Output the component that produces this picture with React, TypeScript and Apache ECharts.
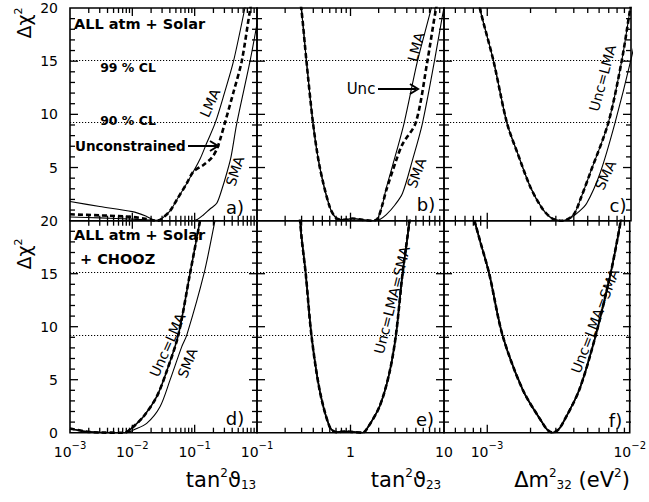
import React, { useEffect, useRef } from 'react';
import * as echarts from 'echarts';

type Pt = [number, number];

// ---------- data (x, Δχ²) ----------
// a) tan²θ13 — ALL atm + Solar
const aLMA: Pt[] = [[0.001, 1.8], [0.003, 1.33], [0.01, 0.85], [0.017, 0.4], [0.024, 0.0], [0.028, 0.08], [0.04, 0.9], [0.0515, 1.95], [0.0745, 3.5], [0.095, 4.6], [0.122, 5.8], [0.156, 7.3], [0.215, 9.24], [0.3, 12.0], [0.42, 15.0], [0.64, 20.0], [0.75, 22.0]];
const aSMA: Pt[] = [[0.001, 0.35], [0.003, 0.27], [0.01, 0.15], [0.02, 0.05], [0.04, 0.0], [0.09, 0.0], [0.11, 0.12], [0.138, 0.54], [0.176, 1.1], [0.226, 1.64], [0.275, 3.0], [0.327, 4.46], [0.383, 6.0], [0.477, 9.24], [0.773, 15.0], [1.0, 18.5]];
const aUnc: Pt[] = [[0.001, 0.6], [0.003, 0.5], [0.01, 0.35], [0.017, 0.15], [0.024, 0.0], [0.028, 0.08], [0.04, 0.9], [0.0515, 1.95], [0.0745, 3.5], [0.095, 4.6], [0.138, 5.24], [0.187, 5.9], [0.226, 6.7], [0.255, 7.6], [0.307, 9.24], [0.42, 12.1], [0.569, 15.0], [0.773, 19.8], [0.85, 21.0]];

// b) tan²θ23 — ALL atm + Solar
const bLeft: Pt[] = [[0.27, 22.5], [0.299, 19.8], [0.338, 15.0], [0.397, 9.2], [0.468, 5.08], [0.598, 1.32], [0.705, 0.23], [0.85, 0.08], [1.05, 0.2], [1.35, 0.08], [1.73, 0.0]];
const bLMA: Pt[] = [[1.95, 0.2], [2.21, 1.6], [2.4, 3.0], [3.06, 6.3], [3.75, 9.2], [5.2, 15.0], [7.22, 19.8], [8.0, 21.5]];
const bSMA: Pt[] = [[2.04, 0.1], [2.4, 0.54], [3.0, 1.5], [3.6, 2.58], [4.6, 5.7], [5.88, 9.16], [7.9, 15.0], [9.5, 19.0], [10.5, 21.0]];
const bUnc: Pt[] = [[1.95, 0.2], [2.21, 1.6], [2.4, 2.8], [3.06, 5.6], [3.6, 7.2], [5.0, 9.24], [6.64, 15.0], [8.16, 19.8], [9.0, 21.5]];

// c) Δm²32 — ALL atm + Solar
const cLeft: Pt[] = [[8.5e-4, 21.5], [8.94e-4, 19.8], [1.106e-3, 15.0], [1.37e-3, 9.2], [1.65e-3, 6.1], [1.99e-3, 3.2], [2.4e-3, 1.2], [2.81e-3, 0.23], [3.3e-3, 0.0]];
const cLMA: Pt[] = [[3.97e-3, 0.54], [4.5e-3, 2.2], [5.19e-3, 4.46], [6.95e-3, 9.2], [8.61e-3, 15.0], [9.84e-3, 19.8], [1.05e-2, 22.0]];
const cSMA: Pt[] = [[3.7e-3, 0.15], [4.3e-3, 0.8], [4.92e-3, 1.64], [6.09e-3, 4.46], [7.74e-3, 9.2], [1.01e-2, 15.4], [1.1e-2, 18.0]];

// d) tan²θ13 — ALL atm + Solar + CHOOZ
const dLeft: Pt[] = [[0.001, 0.4], [0.00185, 0.1], [0.003, 0.02], [0.0075, 0.0]];
const dLMA: Pt[] = [[0.0092, 0.3], [0.015, 1.5], [0.0246, 3.4], [0.0356, 5.8], [0.0546, 9.2], [0.0841, 15.0], [0.122, 20.0], [0.14, 22.0]];
const dSMA: Pt[] = [[0.0085, 0.02], [0.0104, 0.25], [0.017, 0.88], [0.0278, 2.45], [0.0402, 4.96], [0.0619, 8.1], [0.0747, 9.2], [0.141, 15.0], [0.212, 20.0], [0.24, 21.5]];

// e) tan²θ23 — Unc = LMA = SMA
const eAll: Pt[] = [[0.27, 22.5], [0.283, 21.0], [0.299, 18.5], [0.332, 15.0], [0.382, 9.2], [0.468, 4.0], [0.598, 0.56], [0.705, 0.05], [0.9, 0.12], [1.1, 0.05], [1.35, 0.0], [1.47, 0.25], [2.04, 2.45], [2.6, 5.6], [3.06, 9.2], [3.6, 15.0], [4.07, 18.5], [4.5, 21.5]];

// f) Δm²32 — Unc = LMA = SMA
const fAll: Pt[] = [[7.62e-4, 21.5], [8.94e-4, 18.1], [1.037e-3, 15.0], [1.285e-3, 9.2], [1.787e-3, 4.0], [2.46e-3, 0.88], [2.66e-3, 0.25], [2.885e-3, 0.0], [3.14e-3, 0.25], [3.39e-3, 0.88], [4.42e-3, 4.0], [5.78e-3, 9.2], [7.34e-3, 15.0], [8.16e-3, 18.1], [8.66e-3, 20.0], [9.2e-3, 22.0]];

// confidence levels (Δχ², 5 d.o.f.)
const CL_90 = 9.24;
const CL_99 = 15.09;

// axis ranges and ticks
const X_T13: [number, number] = [1e-3, 1];
const X_T23: [number, number] = [0.1, 10];
const X_DM: [number, number] = [5e-4, 1e-2];
const Y_RANGE: [number, number] = [0, 20];
const Y_MINOR_STEP = 1;
const Y_MAJOR_STEP = 5;
const MANTISSAS = [2, 3, 4, 5, 6, 7, 8, 9];

// ---------- layout / style ----------
const FONT = '"DejaVu Sans", "Liberation Sans", Arial, sans-serif';
const ROW_TOP = [8, 220.7];
const ROW_H = [212.7, 212];
const COL_LEFT = [70, 257, 444];
const COL_W = 187;
const TICK_MAJOR = 8; // px
const TICK_MINOR = 5; // px

const PANELS = [
  { range: X_T13, lma: aLMA, sma: aSMA, unc: aUnc, thick: false, label: 'none' },
  { range: X_T23, lma: [...bLeft, ...bLMA], sma: [...bLeft, ...bSMA], unc: [...bLeft, ...bUnc], thick: false, label: 'none' },
  { range: X_DM, lma: [...cLeft, ...cLMA], sma: [...cLeft, ...cSMA], unc: [...cLeft, ...cLMA], thick: false, label: 'none' },
  { range: X_T13, lma: [...dLeft, ...dLMA], sma: [...dLeft, ...dSMA], unc: [...dLeft, ...dLMA], thick: true, label: 'd' },
  { range: X_T23, lma: eAll, sma: eAll, unc: eAll, thick: true, label: 'e' },
  { range: X_DM, lma: fAll, sma: fAll, unc: fAll, thick: true, label: 'f' },
];

const RICH_TICK = {
  b: { fontFamily: FONT, fontSize: 14, color: '#000', lineHeight: 24 },
  s: { fontFamily: FONT, fontSize: 10, color: '#000', padding: [0, 0, 12, 0] },
};

const pow10Label = (e: number) => `{b|10}{s|${e < 0 ? '\u2212' + -e : e}}`;

function xFormatter(kind: string) {
  return (v: number) => {
    const l = Math.log10(v);
    const e = Math.round(l);
    if (Math.abs(l - e) > 1e-6) return '';
    if (kind === 'd') return e >= 0 ? '' : pow10Label(e);
    if (kind === 'e') return e === 0 ? '{b|1}' : e === 1 ? '{b|10}' : pow10Label(e);
    if (kind === 'f') return pow10Label(e);
    return '';
  };
}

function xTickValues(range: [number, number]): number[][] {
  const out: number[][] = [];
  const lo = Math.floor(Math.log10(range[0]) + 1e-9);
  const hi = Math.ceil(Math.log10(range[1]) - 1e-9);
  for (let e = lo; e <= hi; e++) {
    const dec = Math.pow(10, e);
    if (dec > range[0] * 1.0001 && dec < range[1] * 0.9999) out.push([dec, 1]);
    for (let k = 0; k < MANTISSAS.length; k++) {
      const v = MANTISSAS[k] * dec;
      if (v > range[0] * 1.0001 && v < range[1] * 0.9999) out.push([v, 0]);
    }
  }
  return out;
}

function yTickValues(): number[][] {
  const out: number[][] = [];
  for (let v = Y_RANGE[0] + Y_MINOR_STEP; v < Y_RANGE[1]; v += Y_MINOR_STEP) {
    out.push([v, v % Y_MAJOR_STEP === 0 ? 1 : 0]);
  }
  return out;
}

// tick marks on all four sides, as one polyline path per tick (graphic 'polyline')
function tickMarks(): any[] {
  const out: any[] = [];
  PANELS.forEach((p, i) => {
    const row = Math.floor(i / 3);
    const col = i % 3;
    const left = COL_LEFT[col];
    const top = ROW_TOP[row];
    const h = ROW_H[row];
    const l0 = Math.log10(p.range[0]);
    const l1 = Math.log10(p.range[1]);
    const xs = xTickValues(p.range);
    for (let k = 0; k < xs.length; k++) {
      const L = xs[k][1] ? TICK_MAJOR : TICK_MINOR;
      const px = left + ((Math.log10(xs[k][0]) - l0) / (l1 - l0)) * COL_W;
      out.push({ type: 'polyline', z: 60, shape: { points: [[px, top + h], [px, top + h - L]] }, style: { stroke: '#000', lineWidth: 1.3, fill: null } });
      out.push({ type: 'polyline', z: 60, shape: { points: [[px, top], [px, top + L]] }, style: { stroke: '#000', lineWidth: 1.3, fill: null } });
    }
    const ys = yTickValues();
    for (let k = 0; k < ys.length; k++) {
      const L = ys[k][1] ? TICK_MAJOR : TICK_MINOR;
      const py = top + h - ((ys[k][0] - Y_RANGE[0]) / (Y_RANGE[1] - Y_RANGE[0])) * h;
      out.push({ type: 'polyline', z: 60, shape: { points: [[left, py], [left + L, py]] }, style: { stroke: '#000', lineWidth: 1.3, fill: null } });
      out.push({ type: 'polyline', z: 60, shape: { points: [[left + COL_W, py], [left + COL_W - L, py]] }, style: { stroke: '#000', lineWidth: 1.3, fill: null } });
    }
  });
  return out;
}

const txt = (x: number, y: number, text: string, fontSize: number, rotDeg = 0, align = 'center', rich?: any, weight = 'normal') => ({
  type: 'text',
  x,
  y,
  rotation: (rotDeg * Math.PI) / 180,
  z: 100,
  silent: true,
  style: { text, fontSize, fontFamily: FONT, fontWeight: weight, fill: '#000', align, verticalAlign: 'middle', rich },
});

const RICH_TITLE = {
  m: { fontFamily: FONT, fontSize: 21, color: '#000' },
  s: { fontFamily: FONT, fontSize: 12, color: '#000', padding: [0, 0, 14, 0] },
  u: { fontFamily: FONT, fontSize: 12, color: '#000', padding: [10, 0, 0, 0] },
};
const RICH_Y = {
  m: { fontFamily: FONT, fontSize: 19, color: '#000' },
  s: { fontFamily: FONT, fontSize: 11, color: '#000', padding: [0, 0, 12, 0] },
};

function arrow(x1: number, x2: number, y: number) {
  return [
    { type: 'line', z: 100, silent: true, shape: { x1, y1: y, x2: x2 - 2, y2: y }, style: { stroke: '#000', lineWidth: 2 } },
    { type: 'polyline', z: 100, silent: true, shape: { points: [[x2 - 8, y - 5], [x2, y], [x2 - 8, y + 5]] }, style: { stroke: '#000', lineWidth: 2, fill: 'none' } },
  ];
}

function annotations(): any[] {
  return [
    txt(74, 23.5, 'ALL atm + Solar', 14.5, 0, 'left', undefined, 'bold'),
    txt(128, 67, '99 % CL', 12.5, 0, 'center', undefined, 'bold'),
    txt(128, 120, '90 % CL', 12.5, 0, 'center', undefined, 'bold'),
    txt(75, 146, 'Unconstrained', 13.5, 0, 'left', undefined, 'bold'),
    ...arrow(188, 218, 146),
    txt(210, 103, 'LMA', 14, 66),
    txt(235, 171, 'SMA', 14, 72),
    txt(235, 207, 'a)', 18),
    txt(361, 89, 'Unc', 15),
    ...arrow(378, 418, 89),
    txt(416, 47, 'LMA', 14, 75),
    txt(416.5, 173, 'SMA', 14, 70),
    txt(426, 204, 'b)', 18),
    txt(602.5, 78, 'Unc=LMA', 14, 75),
    txt(605.5, 175, 'SMA', 14, 65),
    txt(618, 205, 'c)', 18),
    txt(74, 235, 'ALL atm + Solar', 14.5, 0, 'left', undefined, 'bold'),
    txt(80, 258.5, '+ CHOOZ', 14.5, 0, 'left', undefined, 'bold'),
    txt(167.5, 345, 'Unc=LMA', 14, 66),
    txt(187.5, 363, 'SMA', 14, 68),
    txt(235, 418, 'd)', 18),
    txt(392, 300, 'Unc=LMA=SMA', 14, 76),
    txt(425, 419, 'e)', 18),
    txt(595, 321, 'Unc=LMA=SMA', 14, 69),
    txt(615.5, 420, 'f)', 18),
    txt(24, 23, '{m|\u0394\u03c7}{s|2}', 19, 90, 'center', RICH_Y),
    txt(24, 254, '{m|\u0394\u03c7}{s|2}', 19, 90, 'center', RICH_Y),
    txt(221, 480, '{m|tan}{s|2}{m|\u03d1}{u|13}', 21, 0, 'center', RICH_TITLE),
    txt(406, 480, '{m|tan}{s|2}{m|\u03d1}{u|23}', 21, 0, 'center', RICH_TITLE),
    txt(572, 480, '{m|\u0394m}{s|2}{u|32}{m| (eV}{s|2}{m|)}', 21, 0, 'center', RICH_TITLE),
  ];
}

function buildOption() {
  const grid: any[] = [];
  const xAxis: any[] = [];
  const yAxis: any[] = [];
  const series: any[] = [];

  PANELS.forEach((p, i) => {
    const row = Math.floor(i / 3);
    const col = i % 3;
    grid.push({
      left: COL_LEFT[col],
      top: ROW_TOP[row],
      width: COL_W,
      height: ROW_H[row],
      show: true,
      borderColor: '#000',
      borderWidth: 1.6,
      containLabel: false,
    });
    xAxis.push({
      type: 'log',
      logBase: 10,
      gridIndex: i,
      min: p.range[0],
      max: p.range[1],
      position: 'bottom',
      axisLine: { show: false },
      axisTick: { show: false },
      splitLine: { show: false },
      axisLabel: {
        show: p.label !== 'none',
        formatter: xFormatter(p.label),
        margin: 7,
        rich: RICH_TICK,
        fontFamily: FONT,
        fontSize: 14,
        color: '#000',
      },
    });
    yAxis.push({
      type: 'value',
      gridIndex: i,
      min: Y_RANGE[0],
      max: Y_RANGE[1],
      interval: Y_MAJOR_STEP,
      position: 'left',
      axisLine: { show: false },
      axisTick: { show: false },
      splitLine: { show: false },
      axisLabel: {
        show: col === 0,
        margin: 12,
        fontFamily: FONT,
        fontSize: 14,
        color: '#000',
        formatter: (v: number) => (row === 0 && v === 0 ? '' : String(v)),
      },
    });

    const common = { type: 'line', xAxisIndex: i, yAxisIndex: i, showSymbol: false, symbol: 'none', smooth: 0.3, silent: true };
    series.push({
      ...common,
      data: p.sma,
      lineStyle: { color: '#000', width: p.thick && p.sma === p.lma ? 1.6 : 1.1 },
      markLine: {
        silent: true,
        symbol: ['none', 'none'],
        label: { show: false },
        lineStyle: { color: '#000', width: 1, type: [1.2, 1.8] },
        data: [{ yAxis: CL_90 }, { yAxis: CL_99 }],
      },
    });
    series.push({ ...common, data: p.lma, lineStyle: { color: '#000', width: p.thick ? 1.6 : 1.1 } });
    series.push({ ...common, data: p.unc, lineStyle: { color: '#000', width: 2.6, type: [5, 3] } });
  });

  return {
    animation: false,
    backgroundColor: '#fff',
    grid,
    xAxis,
    yAxis,
    series,
    graphic: [...annotations(), ...tickMarks()],
  };
}

export default function App() {
  const ref = useRef<HTMLDivElement>(null);
  useEffect(() => {
    if (!ref.current) return;
    const chart = echarts.init(ref.current, null, { renderer: 'svg' });
    chart.setOption(buildOption() as any);
    return () => chart.dispose();
  }, []);
  return (
    <div
      ref={ref}
      style={{ position: 'fixed', left: 0, top: 0, width: 649, height: 502, background: '#fff' }}
    />
  );
}
